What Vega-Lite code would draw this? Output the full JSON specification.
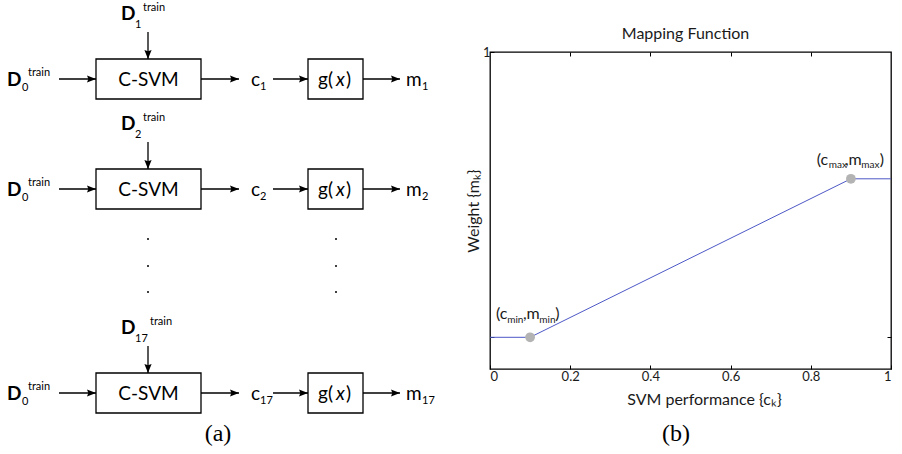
{
  "$schema": "https://vega.github.io/schema/vega-lite/v6.json",
  "padding": {"top": 2, "left": 0, "right": 0, "bottom": 0},
  "background": "white",
  "spacing": 24,
  "config": {"view": {"stroke": null}, "font": "Lato"},
  "datasets": {
    "boxes": [
      {"x1": 96, "x2": 201, "y1": 59, "y2": 99},
      {"x1": 308, "x2": 363, "y1": 59, "y2": 99},
      {"x1": 96, "x2": 201, "y1": 169, "y2": 209},
      {"x1": 308, "x2": 363, "y1": 169, "y2": 209},
      {"x1": 96, "x2": 201, "y1": 373, "y2": 413},
      {"x1": 308, "x2": 363, "y1": 373, "y2": 413}
    ],
    "arrows": [
      {"x1": 59, "y1": 79, "x2": 96, "y2": 79, "dir": "h"},
      {"x1": 201, "y1": 79, "x2": 239, "y2": 79, "dir": "h"},
      {"x1": 273, "y1": 79, "x2": 308, "y2": 79, "dir": "h"},
      {"x1": 363, "y1": 79, "x2": 400, "y2": 79, "dir": "h"},
      {"x1": 148, "y1": 32, "x2": 148, "y2": 59, "dir": "v"},
      {"x1": 59, "y1": 189, "x2": 96, "y2": 189, "dir": "h"},
      {"x1": 201, "y1": 189, "x2": 239, "y2": 189, "dir": "h"},
      {"x1": 273, "y1": 189, "x2": 308, "y2": 189, "dir": "h"},
      {"x1": 363, "y1": 189, "x2": 400, "y2": 189, "dir": "h"},
      {"x1": 148, "y1": 142, "x2": 148, "y2": 169, "dir": "v"},
      {"x1": 59, "y1": 393, "x2": 96, "y2": 393, "dir": "h"},
      {"x1": 201, "y1": 393, "x2": 239, "y2": 393, "dir": "h"},
      {"x1": 273, "y1": 393, "x2": 308, "y2": 393, "dir": "h"},
      {"x1": 363, "y1": 393, "x2": 400, "y2": 393, "dir": "h"},
      {"x1": 148, "y1": 346, "x2": 148, "y2": 373, "dir": "v"}
    ],
    "dots": [
      {"x": 148, "y": 239}, {"x": 148, "y": 266}, {"x": 148, "y": 292},
      {"x": 336, "y": 239}, {"x": 336, "y": 266}, {"x": 336, "y": 292}
    ],
    "labels": [
      {"role": "bold", "x": 7, "y": 86, "t": "D"},
      {"role": "sub", "x": 22, "y": 91, "t": "0"},
      {"role": "sup", "x": 28, "y": 76, "t": "train"},
      {"role": "bold", "x": 121, "y": 20, "t": "D"},
      {"role": "sub", "x": 135, "y": 28, "t": "1"},
      {"role": "sup", "x": 143, "y": 11, "t": "train"},
      {"role": "center", "x": 148.5, "y": 86, "t": "C-SVM"},
      {"role": "main", "x": 251, "y": 86, "t": "c"},
      {"role": "sub", "x": 260, "y": 90, "t": "1"},
      {"role": "main", "x": 318, "y": 86, "t": "g("},
      {"role": "italic", "x": 336, "y": 86, "t": "x"},
      {"role": "main", "x": 346, "y": 86, "t": ")"},
      {"role": "main", "x": 406, "y": 86, "t": "m"},
      {"role": "sub", "x": 422, "y": 90, "t": "1"},

      {"role": "bold", "x": 7, "y": 196, "t": "D"},
      {"role": "sub", "x": 22, "y": 201, "t": "0"},
      {"role": "sup", "x": 28, "y": 186, "t": "train"},
      {"role": "bold", "x": 121, "y": 130, "t": "D"},
      {"role": "sub", "x": 135, "y": 138, "t": "2"},
      {"role": "sup", "x": 143, "y": 121, "t": "train"},
      {"role": "center", "x": 148.5, "y": 196, "t": "C-SVM"},
      {"role": "main", "x": 251, "y": 196, "t": "c"},
      {"role": "sub", "x": 260, "y": 200, "t": "2"},
      {"role": "main", "x": 318, "y": 196, "t": "g("},
      {"role": "italic", "x": 336, "y": 196, "t": "x"},
      {"role": "main", "x": 346, "y": 196, "t": ")"},
      {"role": "main", "x": 406, "y": 196, "t": "m"},
      {"role": "sub", "x": 422, "y": 200, "t": "2"},

      {"role": "bold", "x": 7, "y": 400, "t": "D"},
      {"role": "sub", "x": 22, "y": 405, "t": "0"},
      {"role": "sup", "x": 28, "y": 390, "t": "train"},
      {"role": "bold", "x": 121, "y": 334, "t": "D"},
      {"role": "sub", "x": 135, "y": 342, "t": "17"},
      {"role": "sup", "x": 150, "y": 325, "t": "train"},
      {"role": "center", "x": 148.5, "y": 400, "t": "C-SVM"},
      {"role": "main", "x": 251, "y": 400, "t": "c"},
      {"role": "sub", "x": 260, "y": 404, "t": "17"},
      {"role": "main", "x": 318, "y": 400, "t": "g("},
      {"role": "italic", "x": 336, "y": 400, "t": "x"},
      {"role": "main", "x": 346, "y": 400, "t": ")"},
      {"role": "main", "x": 406, "y": 400, "t": "m"},
      {"role": "sub", "x": 422, "y": 404, "t": "17"},

      {"role": "cap", "x": 218, "y": 441, "t": "(a)"}
    ],
    "curve": [
      {"c": 0, "m": 0.1},
      {"c": 0.1, "m": 0.1},
      {"c": 0.9, "m": 0.6},
      {"c": 1, "m": 0.6}
    ],
    "knots": [
      {"c": 0.1, "m": 0.1},
      {"c": 0.9, "m": 0.6}
    ],
    "notes": [
      {"role": "main", "c": 0.815, "m": 0.6435, "t": "(c"},
      {"role": "sub", "c": 0.845, "m": 0.634, "t": "max"},
      {"role": "main", "c": 0.885, "m": 0.6435, "t": ",m"},
      {"role": "sub", "c": 0.926, "m": 0.634, "t": "max"},
      {"role": "main", "c": 0.972, "m": 0.6435, "t": ")"},
      {"role": "main", "c": 0.015, "m": 0.1577, "t": "(c"},
      {"role": "sub", "c": 0.043, "m": 0.1451, "t": "min"},
      {"role": "main", "c": 0.082, "m": 0.1577, "t": ",m"},
      {"role": "sub", "c": 0.123, "m": 0.1451, "t": "min"},
      {"role": "main", "c": 0.163, "m": 0.1577, "t": ")"},
      {"role": "cap", "c": 0.464, "m": -0.2287, "t": "(b)"}
    ]
  },
  "hconcat": [
    {
      "width": 440,
      "height": 402,
      "view": {"stroke": null},
      "layer": [
        {
          "data": {"name": "boxes"},
          "mark": {"type": "rect", "fill": "white", "stroke": "black", "strokeWidth": 1.3},
          "encoding": {
            "x": {"field": "x1", "type": "quantitative", "scale": {"domain": [0, 440], "nice": false, "zero": false}, "axis": null},
            "x2": {"field": "x2"},
            "y": {"field": "y1", "type": "quantitative", "scale": {"domain": [52, 454], "nice": false, "zero": false, "reverse": true}, "axis": null},
            "y2": {"field": "y2"}
          }
        },
        {
          "data": {"name": "arrows"},
          "mark": {"type": "rule", "color": "black", "strokeWidth": 1.3},
          "encoding": {
            "x": {"field": "x1", "type": "quantitative", "scale": {"domain": [0, 440], "nice": false, "zero": false}, "axis": null},
            "x2": {"field": "x2"},
            "y": {"field": "y1", "type": "quantitative", "scale": {"domain": [52, 454], "nice": false, "zero": false, "reverse": true}, "axis": null},
            "y2": {"field": "y2"}
          }
        },
        {
          "data": {"name": "arrows"},
          "transform": [{"filter": "datum.dir == 'h'"}],
          "mark": {"type": "point", "shape": "M0,0L-2,-0.8L-1.7,0L-2,0.8Z", "filled": true, "color": "black", "opacity": 1, "size": 81, "strokeWidth": 0},
          "encoding": {
            "x": {"field": "x2", "type": "quantitative", "axis": null},
            "y": {"field": "y2", "type": "quantitative", "axis": null}
          }
        },
        {
          "data": {"name": "arrows"},
          "transform": [{"filter": "datum.dir == 'v'"}],
          "mark": {"type": "point", "shape": "M0,0L-0.8,-2L0,-1.7L0.8,-2Z", "filled": true, "color": "black", "opacity": 1, "size": 81, "strokeWidth": 0},
          "encoding": {
            "x": {"field": "x2", "type": "quantitative", "axis": null},
            "y": {"field": "y2", "type": "quantitative", "axis": null}
          }
        },
        {
          "data": {"name": "dots"},
          "mark": {"type": "point", "shape": "circle", "filled": true, "color": "black", "opacity": 1, "size": 4},
          "encoding": {
            "x": {"field": "x", "type": "quantitative", "axis": null},
            "y": {"field": "y", "type": "quantitative", "axis": null}
          }
        },
        {
          "data": {"name": "labels"},
          "transform": [{"filter": "datum.role == 'bold'"}],
          "mark": {"type": "text", "font": "Lato", "fontSize": 19, "fontWeight": "bold", "align": "left", "baseline": "alphabetic", "color": "black"},
          "encoding": {
            "x": {"field": "x", "type": "quantitative", "axis": null},
            "y": {"field": "y", "type": "quantitative", "axis": null},
            "text": {"field": "t"}
          }
        },
        {
          "data": {"name": "labels"},
          "transform": [{"filter": "datum.role == 'main'"}],
          "mark": {"type": "text", "font": "Lato", "fontSize": 19, "align": "left", "baseline": "alphabetic", "color": "black"},
          "encoding": {
            "x": {"field": "x", "type": "quantitative", "axis": null},
            "y": {"field": "y", "type": "quantitative", "axis": null},
            "text": {"field": "t"}
          }
        },
        {
          "data": {"name": "labels"},
          "transform": [{"filter": "datum.role == 'italic'"}],
          "mark": {"type": "text", "font": "Lato", "fontSize": 19, "fontStyle": "italic", "align": "left", "baseline": "alphabetic", "color": "black"},
          "encoding": {
            "x": {"field": "x", "type": "quantitative", "axis": null},
            "y": {"field": "y", "type": "quantitative", "axis": null},
            "text": {"field": "t"}
          }
        },
        {
          "data": {"name": "labels"},
          "transform": [{"filter": "datum.role == 'center'"}],
          "mark": {"type": "text", "font": "Lato", "fontSize": 19, "align": "center", "baseline": "alphabetic", "color": "black"},
          "encoding": {
            "x": {"field": "x", "type": "quantitative", "axis": null},
            "y": {"field": "y", "type": "quantitative", "axis": null},
            "text": {"field": "t"}
          }
        },
        {
          "data": {"name": "labels"},
          "transform": [{"filter": "datum.role == 'sub' || datum.role == 'sup'"}],
          "mark": {"type": "text", "font": "Lato", "fontSize": 11, "align": "left", "baseline": "alphabetic", "color": "black"},
          "encoding": {
            "x": {"field": "x", "type": "quantitative", "axis": null},
            "y": {"field": "y", "type": "quantitative", "axis": null},
            "text": {"field": "t"}
          }
        },
        {
          "data": {"name": "labels"},
          "transform": [{"filter": "datum.role == 'cap'"}],
          "mark": {"type": "text", "font": "Liberation Serif", "fontSize": 24, "align": "center", "baseline": "alphabetic", "color": "black"},
          "encoding": {
            "x": {"field": "x", "type": "quantitative", "axis": null},
            "y": {"field": "y", "type": "quantitative", "axis": null},
            "text": {"field": "t"}
          }
        }
      ]
    },
    {
      "width": 401,
      "height": 317,
      "view": {"stroke": "black", "strokeWidth": 1.3},
      "title": {"text": "Mapping Function", "font": "Lato", "fontSize": 16, "fontWeight": "normal", "color": "#1a1a1a", "offset": 4, "dx": -5},
      "layer": [
        {
          "data": {"name": "curve"},
          "mark": {"type": "line", "color": "#4d58c6", "strokeWidth": 1},
          "encoding": {
            "x": {
              "field": "c", "type": "quantitative",
              "scale": {"domain": [0, 1], "nice": false, "zero": false},
              "axis": {
                "orient": "bottom", "values": [0, 0.2, 0.4, 0.6, 0.8, 1], "format": "~g",
                "tickSize": -4, "tickColor": "black", "domain": false, "grid": false,
                "labelFont": "Lato", "labelFontSize": 13, "labelColor": "#1a1a1a", "labelPadding": 5,
                "title": "SVM performance {cₖ}", "titleFont": "Lato", "titleFontSize": 16, "titleFontWeight": "normal",
                "titleColor": "#1a1a1a", "titleX": 214, "titleY": 35, "titleBaseline": "alphabetic"
              }
            },
            "y": {
              "field": "m", "type": "quantitative",
              "scale": {"domain": [0, 1], "nice": false, "zero": false},
              "axis": {
                "orient": "left", "values": [0.1, 1], "labelExpr": "datum.value == 1 ? '1' : ''",
                "tickSize": -4, "tickColor": "black", "domain": false, "grid": false,
                "labelFont": "Lato", "labelFontSize": 13, "labelColor": "#1a1a1a", "labelPadding": 4,
                "title": "Weight {mₖ}", "titleFont": "Lato", "titleFontSize": 16, "titleFontWeight": "normal",
                "titleColor": "#1a1a1a", "titleX": -12, "titleY": 158.5, "titleAngle": -90, "titleBaseline": "alphabetic"
              }
            }
          }
        },
        {
          "data": {"name": "knots"},
          "mark": {"type": "point", "shape": "circle", "filled": true, "color": "#b3b3b3", "opacity": 1, "size": 95},
          "encoding": {
            "x": {
              "field": "c", "type": "quantitative",
              "axis": {"orient": "top", "values": [0.2, 0.4, 0.6, 0.8], "tickSize": -4, "tickColor": "black", "labels": false, "domain": false, "grid": false, "title": null}
            },
            "y": {
              "field": "m", "type": "quantitative",
              "axis": {"orient": "right", "values": [0.1], "tickSize": -4, "tickColor": "black", "labels": false, "domain": false, "grid": false, "title": null}
            }
          }
        },
        {
          "data": {"name": "notes"},
          "transform": [{"filter": "datum.role == 'main'"}],
          "mark": {"type": "text", "font": "Lato", "fontSize": 16, "align": "left", "baseline": "alphabetic", "color": "#1a1a1a"},
          "encoding": {
            "x": {"field": "c", "type": "quantitative", "axis": null},
            "y": {"field": "m", "type": "quantitative", "axis": null},
            "text": {"field": "t"}
          }
        },
        {
          "data": {"name": "notes"},
          "transform": [{"filter": "datum.role == 'sub'"}],
          "mark": {"type": "text", "font": "Lato", "fontSize": 10, "align": "left", "baseline": "alphabetic", "color": "#1a1a1a"},
          "encoding": {
            "x": {"field": "c", "type": "quantitative", "axis": null},
            "y": {"field": "m", "type": "quantitative", "axis": null},
            "text": {"field": "t"}
          }
        },
        {
          "data": {"name": "notes"},
          "transform": [{"filter": "datum.role == 'cap'"}],
          "mark": {"type": "text", "font": "Liberation Serif", "fontSize": 24, "align": "center", "baseline": "alphabetic", "color": "black"},
          "encoding": {
            "x": {"field": "c", "type": "quantitative", "axis": null},
            "y": {"field": "m", "type": "quantitative", "axis": null},
            "text": {"field": "t"}
          }
        }
      ],
      "resolve": {"axis": {"x": "independent", "y": "independent"}}
    }
  ]
}
